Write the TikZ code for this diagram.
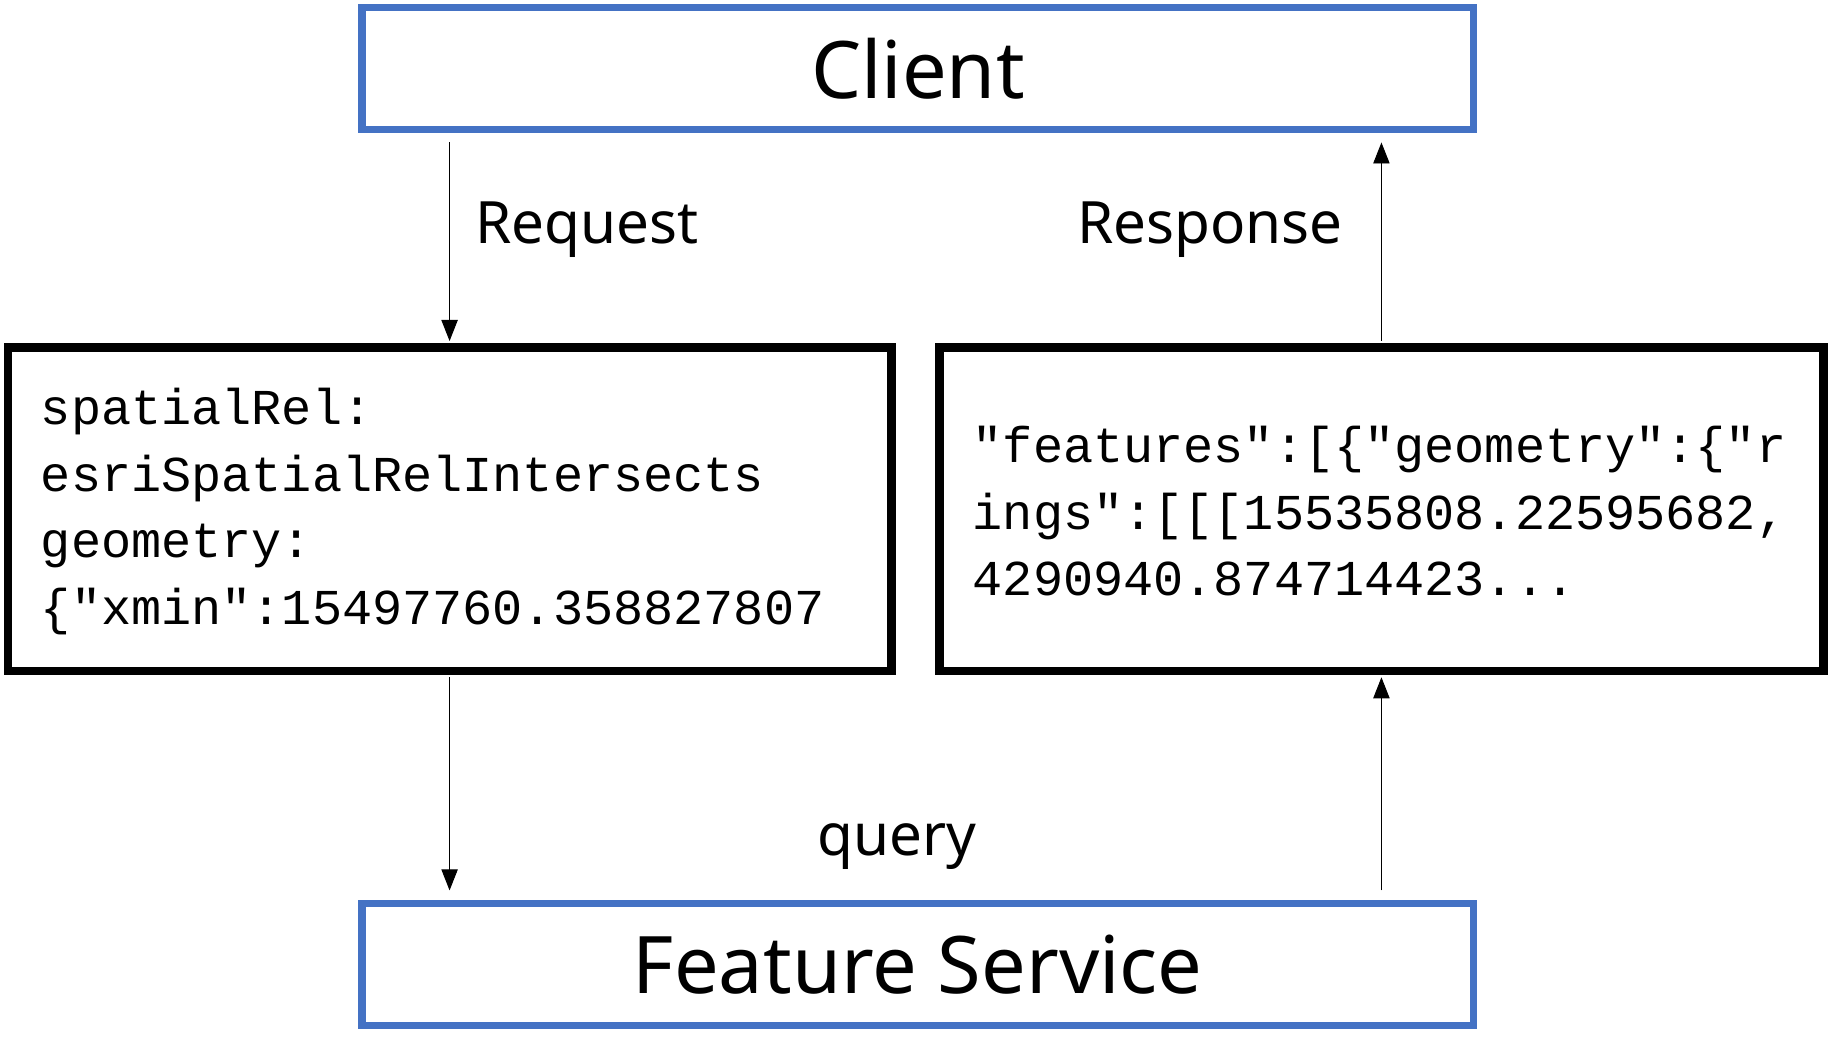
\documentclass[tikz,border=0pt]{standalone}
\usepackage{fontspec}
\setmainfont{Noto Sans}
\setmonofont{Liberation Mono}
\usetikzlibrary{arrows.meta, positioning}
\definecolor{boxblue}{HTML}{4472C4}
\tikzset{
    x=0.5pt, y=-0.5pt,
    >={Triangle[length=9pt, width=7pt]}, % arrow heads
    bluebox/.style={draw=boxblue, line width=3pt, minimum width=476pt, minimum height=52.5pt, font=\bfseries\fontsize{34}{40}\selectfont},
    blackbox/.style={draw, line width=3.5pt, minimum width=378.5pt, minimum height=138.5pt},
    code/.style={align=left, anchor=west, font=\ttfamily\fontsize{21.5}{28.5}\selectfont},
    label/.style={font=\bfseries\fontsize{25}{30}\selectfont},
}
\begin{document}
\begin{tikzpicture}
\useasboundingbox (0,0) rectangle (1568,902);
% top and bottom boxes
\node[bluebox] (client) at (786,58.5) {Client};
\node[bluebox] (service) at (786,826) {Feature Service};
% middle boxes
\node[blackbox] (req) at (385,436) {};
\node[blackbox] (res) at (1183,436) {};
\node[code] (reqtext) at (28,438) {spatialRel:\\esriSpatialRelIntersects\\geometry:\\\{"xmin":15497760.358827807};
\node[code] (restext) at (826,438) {"features":[\{"geometry":\{"r\\ings":[[[15535808.22595682,\\4290940.874714423...};
% arrows
\draw[->, shorten <=4pt, shorten >=1pt] (req.north |- client.south) -- (req.north);
\draw[->, shorten <=1pt, shorten >=4pt] (res.north) -- (res.north |- client.south);
\draw[->, shorten <=1pt, shorten >=4pt] (req.south) -- (req.south |- service.north);
\draw[->, shorten <=4pt, shorten >=1pt] (res.south |- service.north) -- (res.south);
% labels
\node[label, anchor=west] (reqlabel) at (400,197) {Request};
\node[label, anchor=east] (reslabel) at (1157,197) {Response};
\node[label] (query) at (768,725) {query};
\end{tikzpicture}
\end{document}
